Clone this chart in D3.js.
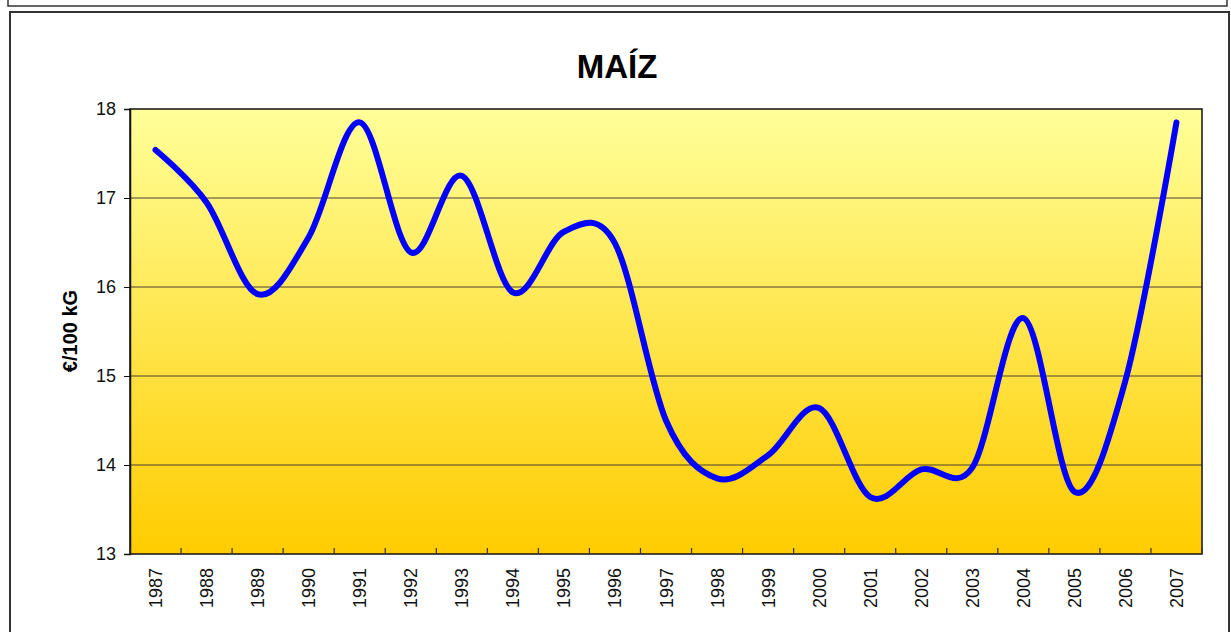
<!DOCTYPE html>
<html>
<head>
<meta charset="utf-8">
<script src="https://cdn.jsdelivr.net/npm/d3@7"></script>
<style>
  body { margin: 0; background: #fff; }
  svg { display: block; font-family: Arial, "Liberation Sans", sans-serif; }
</style>
</head>
<body>
<svg id="chart" width="1231" height="632"></svg>
<script>
// Data
const years = ["1987","1988","1989","1990","1991","1992","1993","1994","1995","1996",
  "1997","1998","1999","2000","2001","2002","2003","2004","2005","2006","2007"];
const prices = [17.54, 16.95, 15.92, 16.56, 17.85, 16.39, 17.25, 15.94, 16.62, 16.49,
  14.5, 13.85, 14.11, 14.64, 13.64, 13.95, 13.97, 15.65, 13.7, 14.95, 17.85];
const yTicks = [13, 14, 15, 16, 17, 18];

const svg = d3.select("#chart");

// Outer frames
svg.append("rect")
  .attr("x", 8).attr("y", -10).attr("width", 1219).attr("height", 16)
  .attr("fill", "#fff").attr("stroke", "#333").attr("stroke-width", 1.5);
svg.append("rect")
  .attr("x", 10).attr("y", 12).attr("width", 1219).attr("height", 640)
  .attr("fill", "#fff").attr("stroke", "#333").attr("stroke-width", 2);

// Plot area
const margin = { top: 109, left: 130 };
const width = 1072;
const height = 445;

const g = svg.append("g")
  .attr("transform", "translate(" + margin.left + "," + margin.top + ")");

// Gradient background
const grad = svg.append("defs").append("linearGradient")
  .attr("id", "bg").attr("x1", 0).attr("y1", 0).attr("x2", 0).attr("y2", 1);
grad.append("stop").attr("offset", "0%").attr("stop-color", "#FFFF99");
grad.append("stop").attr("offset", "100%").attr("stop-color", "#FFCC00");

g.append("rect")
  .attr("width", width).attr("height", height)
  .attr("fill", "url(#bg)");

// Scales
const x = d3.scaleBand().domain(years).range([0, width]).padding(0);
const y = d3.scaleLinear().domain([13, 18]).range([height, 0]);

// Gridlines
g.selectAll(".grid")
  .data(yTicks.filter(d => d > 13 && d < 18))
  .enter().append("line")
  .attr("x1", 0).attr("x2", width)
  .attr("y1", d => y(d)).attr("y2", d => y(d))
  .attr("stroke", "#4a4030").attr("stroke-width", 1);

// Plot border
g.append("rect")
  .attr("width", width).attr("height", height)
  .attr("fill", "none").attr("stroke", "#111").attr("stroke-width", 1.5);

// Y axis
const yAxis = g.append("g")
  .call(d3.axisLeft(y).tickValues(yTicks).tickSize(6).tickPadding(8).tickFormat(d3.format("d")));
yAxis.select(".domain").attr("stroke", "#111").attr("stroke-width", 1.5);
yAxis.selectAll(".tick line").attr("stroke", "#111");
yAxis.selectAll(".tick text")
  .attr("fill", "#111")
  .style("font-size", "18px")
  .style("font-family", "Arial, 'Liberation Sans', sans-serif");

// X axis: ticks on band boundaries, pointing up inside
const boundaries = years.map(d => x(d)).concat([width]);
g.selectAll(".xtick")
  .data(boundaries)
  .enter().append("line")
  .attr("x1", d => d).attr("x2", d => d)
  .attr("y1", height).attr("y2", height - 6)
  .attr("stroke", "#333").attr("stroke-width", 1.2);

g.selectAll(".xlabel")
  .data(years)
  .enter().append("text")
  .attr("transform", d => "translate(" + (x(d) + x.bandwidth() / 2 + 6.5) + "," + (height + 14) + ") rotate(-90)")
  .attr("text-anchor", "end")
  .style("font-size", "18px")
  .attr("fill", "#111")
  .text(d => d);

// Line
const line = d3.line()
  .x((d, i) => x(years[i]) + x.bandwidth() / 2)
  .y(d => y(d))
  .curve(d3.curveCardinal.tension(0));

g.append("path")
  .datum(prices)
  .attr("d", line)
  .attr("fill", "none")
  .attr("stroke", "#0000FF")
  .attr("stroke-width", 6)
  .attr("stroke-linecap", "round")
  .attr("stroke-linejoin", "round");

// Title
svg.append("text")
  .attr("x", 617).attr("y", 78)
  .attr("text-anchor", "middle")
  .style("font-size", "33px")
  .style("font-weight", "bold")
  .attr("fill", "#000")
  .text("MAÍZ");

// Y label
svg.append("text")
  .attr("transform", "translate(77,331) rotate(-90)")
  .attr("text-anchor", "middle")
  .style("font-size", "20px")
  .style("font-weight", "bold")
  .attr("fill", "#000")
  .text("€/100 kG");
</script>
</body>
</html>
